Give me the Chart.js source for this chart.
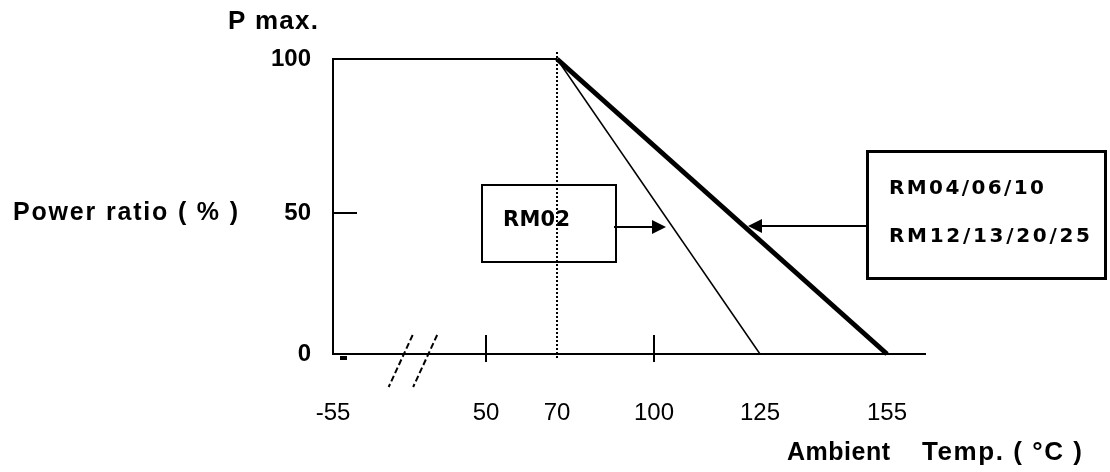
<!DOCTYPE html>
<html>
<head>
<meta charset="utf-8">
<script src="https://cdn.jsdelivr.net/npm/chart.js@4.4.1/dist/chart.umd.min.js"></script>
<style>
  body { margin: 0; background: #fff; }
  canvas { display: block; }
</style>
</head>
<body>
<canvas id="derating" width="1110" height="472"></canvas>
<script>
// tick labels
const tempTicks = [-55, 50, 70, 100, 125, 155];
const ratioTicks = [0, 50, 100];
const tempMarks = [50, 100];   // ticks drawn as short strokes
const ratioMarks = [50];

// curves (temperature, power ratio)
const plateauTemp = [-55, 70];
const plateauRatio = [100, 100];
const rm02Temp = [70, 125];
const rm02Ratio = [100, 0];
const rm04Temp = [70, 155];
const rm04Ratio = [100, 0];

// the temperature axis is broken and not uniform: where each value sits along the axis
const axisStops = {
    x: [[-55, 0], [50, 0.2584], [70, 0.3784], [100, 0.5422], [125, 0.7213], [155, 0.9358], [165, 1]],
    y: [[0, 0], [50, 0.478], [100, 1]]
};

class BrokenScale extends Chart.LinearScale {
    getPixelForValue(value) {
        const stops = axisStops[this.axis];
        let f = 0;
        for (let i = 1; i < stops.length; i++) {
            const [v0, f0] = stops[i - 1];
            const [v1, f1] = stops[i];
            if (value <= v1 || i === stops.length - 1) {
                f = f0 + (value - v0) / (v1 - v0) * (f1 - f0);
                break;
            }
        }
        return this.getPixelForDecimal(f);
    }
}
BrokenScale.id = 'broken';
BrokenScale.defaults = Chart.LinearScale.defaults;
Chart.register(BrokenScale);

const sans = "Arial, 'Liberation Sans', sans-serif";
const verdana = "'DejaVu Sans', Verdana, sans-serif";

function toPoints(xs, ys) {
    return xs.map((x, i) => ({ x: x, y: ys[i] }));
}

function line(ctx, x1, y1, x2, y2, w, dash) {
    ctx.beginPath();
    ctx.lineWidth = w;
    ctx.setLineDash(dash || []);
    ctx.moveTo(x1, y1);
    ctx.lineTo(x2, y2);
    ctx.stroke();
    ctx.setLineDash([]);
}

function arrowHead(ctx, tipX, tipY, dir) {
    ctx.beginPath();
    ctx.moveTo(tipX, tipY);
    ctx.lineTo(tipX - dir * 14, tipY - 7);
    ctx.lineTo(tipX - dir * 14, tipY + 7);
    ctx.closePath();
    ctx.fill();
}

// writes text from x, spread so that it spans the given width
function text(ctx, str, x, y, font, width) {
    ctx.font = font;
    ctx.letterSpacing = '0px';
    ctx.textAlign = 'left';
    ctx.textBaseline = 'middle';
    const natural = ctx.measureText(str).width;
    const gap = Math.max(-1, (width - natural) / (str.length - 1));
    ctx.letterSpacing = gap.toFixed(2) + 'px';
    ctx.fillText(str, x, y);
    ctx.letterSpacing = '0px';
}

const annotate = {
    id: 'annotate',
    afterDatasetsDraw(chart) {
        const { ctx, scales: { x, y } } = chart;
        const y0 = y.getPixelForValue(0);
        ctx.save();
        ctx.strokeStyle = '#000';
        ctx.fillStyle = '#000';

        // dotted line at the knee
        const xk = x.getPixelForValue(70);
        line(ctx, xk, y.getPixelForValue(100) - 7, xk, y0 + 4, 2, [2, 2]);

        // tick strokes
        tempMarks.forEach(v => {
            const px = x.getPixelForValue(v);
            line(ctx, px, y0 - 19, px, y0 + 8, 2);
        });
        ratioMarks.forEach(v => {
            const py = y.getPixelForValue(v);
            line(ctx, x.left, py, x.left + 24, py, 2);
        });
        line(ctx, x.left + 7, y0 + 4, x.left + 14, y0 + 4, 4);

        // axis break
        const xa = x.getPixelForValue(-55), xb = x.getPixelForValue(50);
        [0.462, 0.622].forEach(t => {
            const cx = xa + (xb - xa) * t;
            line(ctx, cx + 9, y0 - 19, cx - 15, y0 + 33, 2, [6, 3]);
        });

        // RM02 label box and arrow
        ctx.lineWidth = 2;
        ctx.strokeRect(482, 185, 134, 77);
        text(ctx, 'RM02', 503, 221, 'bold 21px ' + verdana, 67);
        line(ctx, 614, 227, 654, 227, 2);
        arrowHead(ctx, 666, 227, 1);

        // RM04 label box and arrow
        ctx.lineWidth = 3;
        ctx.strokeRect(867.5, 151.5, 238, 127);
        text(ctx, 'RM04/06/10', 889, 189, 'bold 20px ' + verdana, 155);
        text(ctx, 'RM12/13/20/25', 889, 237, 'bold 20px ' + verdana, 201);
        line(ctx, 867, 226, 760, 226, 2);
        arrowHead(ctx, 748, 226, -1);

        // axis titles
        text(ctx, 'P max.', 228, 22, 'bold 26px ' + sans, 90);
        text(ctx, 'Power ratio ( % )', 13, 213, 'bold 25px ' + sans, 225);
        text(ctx, 'Ambient', 787, 453, 'bold 25px ' + sans, 103);
        text(ctx, 'Temp. ( °C )', 922, 453, 'bold 26px ' + sans, 160);

        ctx.restore();
    }
};

const ctx = document.getElementById('derating').getContext('2d');
const deratingChart = new Chart(ctx, {
    type: 'line',
    data: {
        datasets: [{
            label: 'P max.',
            data: toPoints(plateauTemp, plateauRatio),
            borderColor: '#000',
            borderWidth: 2,
            pointRadius: 0,
            clip: false
        }, {
            label: 'RM02',
            data: toPoints(rm02Temp, rm02Ratio),
            borderColor: '#000',
            borderWidth: 1.5,
            pointRadius: 0,
            clip: false
        }, {
            label: 'RM04/06/10 RM12/13/20/25',
            data: toPoints(rm04Temp, rm04Ratio),
            borderColor: '#000',
            borderWidth: 5,
            pointRadius: 0,
            clip: false
        }]
    },
    options: {
        responsive: false,
        animation: false,
        devicePixelRatio: 1,
        layout: {
            padding: { left: 0, top: 59, right: 185, bottom: 0 }
        },
        scales: {
            x: {
                type: 'broken',
                min: -55,
                max: 165,
                afterBuildTicks: function(scale) {
                    scale.ticks = tempTicks.map(v => ({ value: v }));
                },
                afterFit: function(scale) {
                    scale.height = 118;
                },
                grid: { display: false },
                border: { display: true, color: '#000', width: 2 },
                ticks: {
                    autoSkip: false,
                    maxRotation: 0,
                    padding: 37,
                    color: '#000',
                    font: { family: sans, size: 24 },
                    callback: v => String(v)
                }
            },
            y: {
                type: 'broken',
                min: 0,
                max: 100,
                afterBuildTicks: function(scale) {
                    scale.ticks = ratioTicks.map(v => ({ value: v }));
                },
                afterFit: function(scale) {
                    scale.width = 333;
                },
                grid: { display: false },
                border: { display: true, color: '#000', width: 2 },
                ticks: {
                    padding: 14,
                    color: '#000',
                    font: { family: sans, size: 24, weight: 'bold' },
                    callback: v => String(v)
                }
            }
        },
        plugins: {
            legend: { display: false },
            tooltip: { enabled: false }
        }
    },
    plugins: [annotate]
});
</script>
</body>
</html>
